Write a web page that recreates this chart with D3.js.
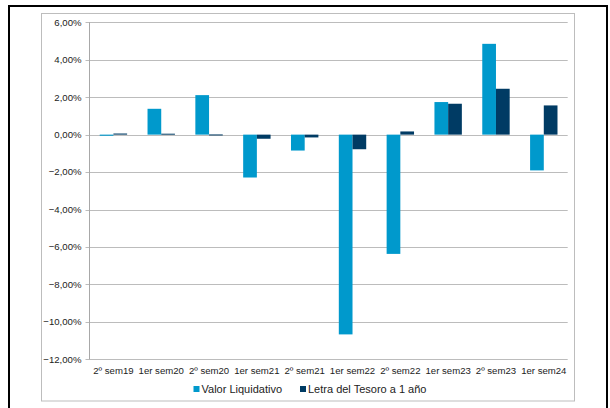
<!DOCTYPE html>
<html>
<head>
<meta charset="utf-8">
<script src="https://cdn.jsdelivr.net/npm/d3@7"></script>
<style>
  body { margin: 0; background: #fff; }
  text { font-family: Arial, "Liberation Sans", sans-serif; fill: #222; }
</style>
</head>
<body>
<svg id="chart" width="610" height="408"></svg>
<script>
// periods on the x axis
var periods = ["2º sem19", "1er sem20", "2º sem20", "1er sem21", "2º sem21",
               "1er sem22", "2º sem22", "1er sem23", "2º sem23", "1er sem24"];
// half-year returns, in %
var valorLiquidativo = [-0.06, 1.38, 2.11, -2.29, -0.85, -10.67, -6.37, 1.74, 4.85, -1.91];
var letraTesoro = [0.06, 0.05, 0.01, -0.22, -0.15, -0.78, 0.17, 1.65, 2.45, 1.56];
var seriesNames = ["Valor Liquidativo", "Letra del Tesoro a 1 año"];
var yTicks = [6, 4, 2, 0, -2, -4, -6, -8, -10, -12];

var colors = ["#0099cc", "#003b64"];

var svg = d3.select("#chart");

// outer frame (black) and chart area (grey)
svg.append("path")
    .attr("d", "M9,408V6H607V408")
    .attr("fill", "none")
    .attr("stroke", "#000")
    .attr("stroke-width", 2);
svg.append("rect")
    .attr("x", 41.5).attr("y", 13.5)
    .attr("width", 533).attr("height", 387.5)
    .attr("fill", "none")
    .attr("stroke", "#bdbdbd");

var plotLeft = 89.5, plotRight = 567.7, plotTop = 22.3, plotBottom = 359.3;

var y = d3.scaleLinear()
    .domain([-12, 6])
    .range([plotBottom, plotTop]);

var x = d3.scaleBand()
    .domain(periods)
    .range([plotLeft, plotRight])
    .paddingInner(0)
    .paddingOuter(0);

// two bars per period, gap 150% of a bar width
var x1 = d3.scaleBand()
    .domain([0, 1])
    .range([0, x.bandwidth()])
    .paddingInner(0)
    .paddingOuter(0.745);

// gridlines
svg.append("g")
    .selectAll("line")
    .data(yTicks)
    .enter().append("line")
    .attr("x1", plotLeft - 4)
    .attr("x2", plotRight)
    .attr("y1", function(d) { return Math.round(y(d)) + 0.5; })
    .attr("y2", function(d) { return Math.round(y(d)) + 0.5; })
    .attr("stroke", "#bcbcbc");

// y axis line
svg.append("line")
    .attr("x1", plotLeft).attr("x2", plotLeft)
    .attr("y1", plotTop).attr("y2", plotBottom)
    .attr("stroke", "#a8a8a8");

// y labels
svg.append("g")
    .selectAll("text")
    .data(yTicks)
    .enter().append("text")
    .attr("x", plotLeft - 8)
    .attr("y", function(d) { return y(d); })
    .attr("dy", "0.35em")
    .attr("text-anchor", "end")
    .style("font-size", "9.6px")
    .text(function(d) { return d3.format(".2f")(d).replace(".", ",") + "%"; });

// bars
var data = [valorLiquidativo, letraTesoro];
var groups = svg.append("g")
    .selectAll("g")
    .data(periods)
    .enter().append("g")
    .attr("transform", function(d) { return "translate(" + x(d) + ",0)"; });

groups.selectAll("rect")
    .data(function(d, i) { return data.map(function(s, k) { return {k: k, v: s[i]}; }); })
    .enter().append("rect")
    .attr("x", function(d) { return x1(d.k); })
    .attr("width", x1.bandwidth())
    .attr("y", function(d) { return y(Math.max(0, d.v)); })
    .attr("height", function(d) { return Math.max(1, Math.abs(y(d.v) - y(0))); })
    .attr("fill", function(d) { return colors[d.k]; });

// x labels
svg.append("g")
    .selectAll("text")
    .data(periods)
    .enter().append("text")
    .attr("x", function(d) { return x(d) + x.bandwidth() / 2; })
    .attr("y", 371)
    .attr("dy", "0.35em")
    .attr("text-anchor", "middle")
    .style("font-size", "9.6px")
    .text(function(d) { return d; });

// legend
var legendX = [193.5, 300];
var legend = svg.append("g")
    .selectAll("g")
    .data(seriesNames)
    .enter().append("g")
    .attr("transform", function(d, i) { return "translate(" + legendX[i] + ",389)"; });

legend.append("rect")
    .attr("x", 0).attr("y", -3)
    .attr("width", 6).attr("height", 6)
    .attr("fill", function(d, i) { return colors[i]; });

legend.append("text")
    .attr("x", 8)
    .attr("dy", "0.35em")
    .style("font-size", "11px")
    .text(function(d) { return d; });
</script>
</body>
</html>
